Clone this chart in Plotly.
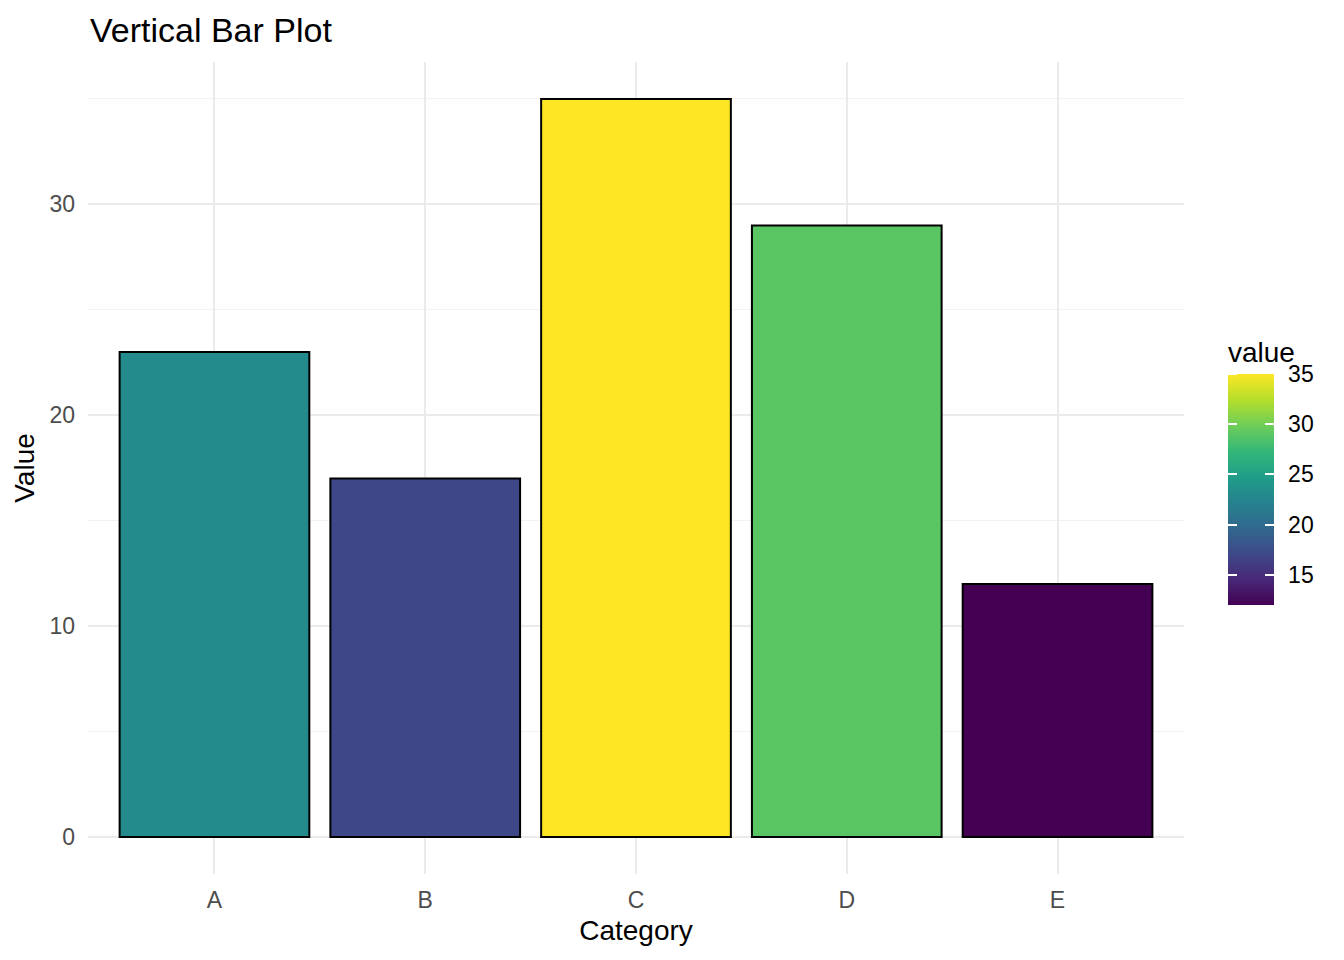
import plotly.graph_objects as go

categories = ["A", "B", "C", "D", "E"]
values = [23, 17, 35, 29, 12]
colorbar_ticks = [15, 20, 25, 30, 35]

W, H = 1344, 960
L, R, T, B = 88, 160, 62, 86
plot_w = W - L - R
plot_h = H - T - B

cmin, cmax = min(values), max(values)
grid = "#EBEBEB"
font = "Liberation Sans, Arial, sans-serif"
clear = [[0, "rgba(0,0,0,0)"], [1, "rgba(0,0,0,0)"]]

# colorbar placement (paper coords); len includes the title block on top
cb_x = (1228 - L) / plot_w
cb_len = 267
cb_y = (H - B - (605 - cb_len / 2)) / plot_h


def colorbar(**kw):
    base = dict(title=dict(text="value", side="top",
                           font=dict(size=28, color="black", family=font)),
                x=cb_x, xanchor="left", xpad=0, ypad=0,
                y=cb_y, yanchor="middle",
                thickness=46, len=cb_len, lenmode="pixels",
                outlinewidth=0, tickvals=colorbar_ticks,
                tickfont=dict(size=23, color="black", family=font))
    base.update(kw)
    return base


hidden_title = dict(text="value", side="top", font=dict(size=28, color="rgba(0,0,0,0)", family=font))

fig = go.Figure()
fig.add_trace(go.Bar(
    x=categories, y=values, width=0.9,
    marker=dict(color=values, colorscale="Viridis", cmin=cmin, cmax=cmax,
                line=dict(color="black", width=2),
                showscale=True,
                colorbar=colorbar(ticks="outside", ticklen=10, tickcolor="rgba(0,0,0,0)")),
    showlegend=False, hoverinfo="x+y",
))

# white tick marks on the right edge of the bar (drawn inward)
fig.add_trace(go.Scatter(
    x=[None], y=[None], mode="markers", showlegend=False, hoverinfo="skip",
    marker=dict(color=[cmin], colorscale=clear, cmin=cmin, cmax=cmax, showscale=True,
                colorbar=colorbar(title=hidden_title, ticks="inside", ticklen=9,
                                  tickcolor="white", tickwidth=1.5, showticklabels=False)),
))

# white tick marks on the left edge of the bar (drawn inward)
fig.add_trace(go.Scatter(
    x=[None], y=[None], mode="markers", showlegend=False, hoverinfo="skip",
    marker=dict(color=[cmin], colorscale=clear, cmin=cmin, cmax=cmax, showscale=True,
                colorbar=colorbar(title=hidden_title, thickness=0.01, ticks="outside",
                                  ticklen=9, tickcolor="white", tickwidth=1.5,
                                  showticklabels=False)),
))

fig.update_layout(
    width=W, height=H,
    margin=dict(l=L, r=R, t=T, b=B),
    paper_bgcolor="white", plot_bgcolor="white",
    font=dict(family=font, color="black"),
    title=dict(text="Vertical Bar Plot", x=90 / W, xanchor="left", xref="container",
               y=1 - 30 / H, yanchor="middle", font=dict(size=34, color="black")),
    bargap=0.1,
)
fig.update_xaxes(
    title=dict(text="Category", font=dict(size=28, color="black"), standoff=8),
    range=[-0.6, 4.6], showgrid=True, gridcolor=grid, gridwidth=2,
    zeroline=False, showline=False, ticks="", ticklabelstandoff=10,
    tickfont=dict(size=23, color="#4D4D4D"),
)
fig.update_yaxes(
    title=dict(text="Value", font=dict(size=28, color="black"), standoff=6),
    range=[-1.75, 36.75], tickvals=[0, 10, 20, 30],
    showgrid=True, gridcolor=grid, gridwidth=2,
    minor=dict(tickvals=[5, 15, 25, 35], showgrid=True, gridcolor="#F2F2F2", gridwidth=1),
    zeroline=False, showline=False, ticks="", ticklabelstandoff=12,
    tickfont=dict(size=23, color="#4D4D4D"),
)

fig.write_html("out.html", config={"displayModeBar": False},
               post_script="document.body.style.margin = '0';")
